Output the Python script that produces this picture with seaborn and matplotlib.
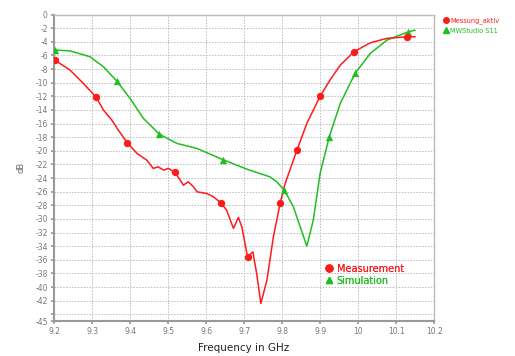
import matplotlib
matplotlib.use("Agg")
import matplotlib.pyplot as plt
import seaborn as sns
import pandas as pd
from matplotlib.lines import Line2D

# Measurement curve (red)
meas_f = [9.202, 9.242, 9.277, 9.311, 9.330, 9.352, 9.369, 9.393, 9.418, 9.444,
          9.461, 9.474, 9.488, 9.501, 9.518, 9.532, 9.540, 9.553, 9.567, 9.576,
          9.602, 9.619, 9.639, 9.654, 9.672, 9.685, 9.694, 9.709, 9.723, 9.733,
          9.744, 9.760, 9.777, 9.795, 9.808, 9.839, 9.865, 9.900, 9.926, 9.953,
          9.989, 10.032, 10.076, 10.128, 10.150]
meas_db = [-6.68, -8.15, -10.10, -12.16, -14.02, -15.49, -16.96, -18.83, -20.38, -21.37,
           -22.58, -22.35, -22.83, -22.58, -23.17, -24.30, -25.04, -24.55, -25.29, -26.02,
           -26.26, -26.75, -27.64, -28.71, -31.39, -29.78, -31.16, -35.57, -34.83, -38.00,
           -42.41, -38.99, -32.63, -27.64, -24.79, -19.90, -15.98, -11.97, -9.62, -7.42,
           -5.46, -4.14, -3.49, -3.26, -3.26]
meas_mk_f = [9.202, 9.311, 9.393, 9.518, 9.639, 9.709, 9.795, 9.839, 9.900, 9.989, 10.128]
meas_mk_db = [-6.68, -12.16, -18.83, -23.17, -27.64, -35.57, -27.64, -19.90, -11.97, -5.46, -3.26]

# Simulation curve (green)
sim_f = [9.202, 9.242, 9.295, 9.330, 9.365, 9.400, 9.435, 9.477, 9.523, 9.576,
         9.644, 9.707, 9.768, 9.786, 9.806, 9.830, 9.847, 9.865, 9.882, 9.900,
         9.924, 9.953, 9.992, 10.032, 10.076, 10.132, 10.150]
sim_db = [-5.21, -5.32, -6.20, -7.67, -9.76, -12.31, -15.24, -17.55, -18.91, -19.65,
          -21.29, -22.69, -23.82, -24.55, -25.77, -28.27, -31.06, -33.99, -30.18, -23.32,
          -17.94, -13.04, -8.63, -5.70, -3.74, -2.53, -2.28]
sim_mk_f = [9.202, 9.365, 9.477, 9.644, 9.806, 9.924, 9.992, 10.132]
sim_mk_db = [-5.21, -9.76, -17.55, -21.29, -25.77, -17.94, -8.63, -2.53]

x_ticks = [9.2, 9.3, 9.4, 9.5, 9.6, 9.7, 9.8, 9.9, 10.0, 10.1, 10.2]
x_labels = ["9.2", "9.3", "9.4", "9.5", "9.6", "9.7", "9.8", "9.9", "10", "10.1", "10.2"]
y_ticks = list(range(0, -45, -2)) + [-45]
y_labels = [str(v) for v in range(0, -43, -2)] + ["", "-45"]

RED = "#ff1a1a"
GREEN = "#1fbf1f"

sns.set_theme(style="whitegrid")
plt.rcParams['font.family'] = ['DejaVu Sans']

fig = plt.figure(figsize=(5.15, 3.56), dpi=100)
ax = fig.add_axes([0.105, 0.098, 0.738, 0.861])

meas = pd.DataFrame({"f": meas_f, "db": meas_db})
sim = pd.DataFrame({"f": sim_f, "db": sim_db})
meas_mk = pd.DataFrame({"f": meas_mk_f, "db": meas_mk_db})
sim_mk = pd.DataFrame({"f": sim_mk_f, "db": sim_mk_db})

sns.lineplot(data=sim, x="f", y="db", ax=ax, color=GREEN, lw=1.1, sort=False)
sns.lineplot(data=meas, x="f", y="db", ax=ax, color=RED, lw=1.1, sort=False)
sns.scatterplot(data=sim_mk, x="f", y="db", ax=ax, color=GREEN, marker="^", s=28,
                edgecolor=GREEN, linewidth=0, zorder=5)
sns.scatterplot(data=meas_mk, x="f", y="db", ax=ax, color=RED, marker="o", s=28,
                edgecolor=RED, linewidth=0, zorder=5)

ax.set_xlim(9.2, 10.2)
ax.set_ylim(-45, 0)
ax.set_xticks(x_ticks)
ax.set_xticklabels(x_labels)
ax.set_yticks(y_ticks)
ax.set_yticklabels(y_labels)
ax.tick_params(axis="both", labelsize=5.5, labelcolor="#777777", length=2.5,
               color="#999999", direction="out", pad=2, left=True, bottom=True)
ax.grid(True, color="#bbbbbb", linestyle=(0, (1.5, 1.5)), linewidth=0.7)
ax.set_facecolor("white")
for side in ["left", "bottom"]:
    ax.spines[side].set_color("#999999")
    ax.spines[side].set_linewidth(1.5)
for side in ["top", "right"]:
    ax.spines[side].set_color("#bbbbbb")
    ax.spines[side].set_linewidth(1.0)

ax.set_xlabel("Frequency in GHz", fontsize=7.5, color="#222222", labelpad=5)
ax.set_ylabel("dB", fontsize=6, color="#666666", labelpad=7)

# inner legend
h1 = Line2D([], [], color=RED, marker="o", linestyle="none", markersize=5)
h2 = Line2D([], [], color=GREEN, marker="^", linestyle="none", markersize=5)
leg = ax.legend([h1, h2], ["Measurement", "Simulation"], loc="upper left",
                bbox_to_anchor=(0.70, 0.20), frameon=False, fontsize=7,
                handletextpad=0.3, labelspacing=0.2, borderaxespad=0, handlelength=1.0)
for t, c in zip(leg.get_texts(), [RED, GREEN]):
    t.set_color(c)
ax.add_artist(leg)

# outer legend
h3 = Line2D([], [], color=RED, marker="o", linestyle="none", markersize=4)
h4 = Line2D([], [], color=GREEN, marker="^", linestyle="none", markersize=4)
leg2 = fig.legend([h3, h4], ["Messung_aktiv", "MWStudio S11"], loc="upper left",
                  bbox_to_anchor=(0.855, 0.958), frameon=False, fontsize=4.8,
                  handletextpad=0.3, labelspacing=0.5, borderaxespad=0, handlelength=0.8)
for t, c in zip(leg2.get_texts(), [RED, GREEN]):
    t.set_color(c)

fig.savefig("out.png", dpi=100)
